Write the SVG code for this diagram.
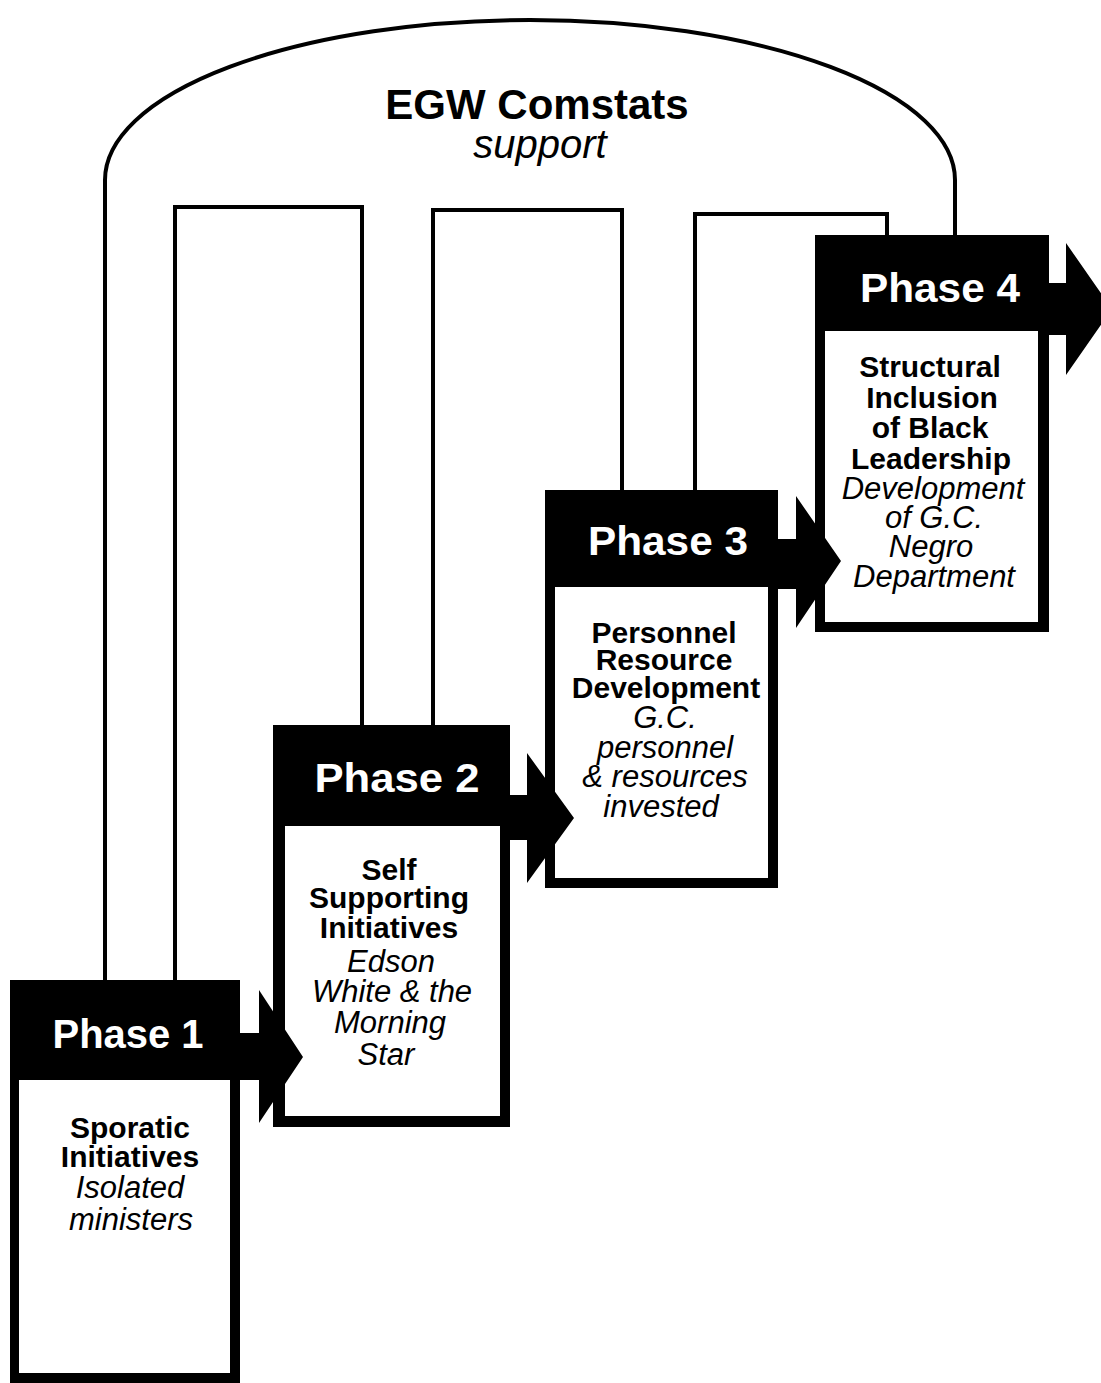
<svg xmlns="http://www.w3.org/2000/svg" width="1101" height="1383" viewBox="0 0 1101 1383">
  <style>
    .frame { fill: #000; }
    .panel { fill: #fff; }
    .line { fill: none; stroke: #000; stroke-width: 4; }
    .arrow { fill: #000; }
    text { font-family: "Liberation Sans", Arial, Helvetica, sans-serif; text-anchor: middle; }
    .title { font-size: 42px; font-weight: bold; fill: #000; }
    .subtitle { font-size: 40px; font-style: italic; fill: #000; }
    .phase { font-size: 41px; font-weight: bold; fill: #fff; }
    .head { font-size: 30px; font-weight: bold; fill: #000; }
    .note { font-size: 31px; font-style: italic; fill: #000; }
  </style>

  <rect width="1101" height="1383" fill="#fff"/>

  <!-- support connectors: outer arch and the three bracket links -->
  <g id="support-lines">
    <path class="line" d="M105,980 V180 A425,160 0 0 1 955,180 V236"/>
    <path class="line" d="M175,980 V207 H362 V726"/>
    <path class="line" d="M433,726 V210 H622 V491"/>
    <path class="line" d="M695,491 V214 H887 V236"/>
  </g>

  <!-- heading inside the arch -->
  <g id="egw-comstats">
    <text class="title" x="537" y="119">EGW Comstats</text>
    <text class="subtitle" x="540" y="158">support</text>
  </g>

  <!-- phase 1 -->
  <g id="phase-1">
    <rect class="frame" x="10" y="980" width="230" height="403"/>
    <rect class="panel" x="19" y="1080" width="211" height="293"/>
    <text class="phase" x="128" y="1048" textLength="151" lengthAdjust="spacingAndGlyphs">Phase 1</text>
    <text class="head" x="130" y="1138">Sporatic</text>
    <text class="head" x="130" y="1167">Initiatives</text>
    <text class="note" x="130" y="1198">Isolated</text>
    <text class="note" x="131" y="1230">ministers</text>
  </g>

  <!-- phase 2 -->
  <g id="phase-2">
    <rect class="frame" x="273" y="725" width="237" height="402"/>
    <rect class="panel" x="285" y="826" width="215" height="290"/>
    <text class="phase" x="397" y="792" textLength="165" lengthAdjust="spacingAndGlyphs">Phase 2</text>
    <text class="head" x="389" y="880">Self</text>
    <text class="head" x="389" y="908">Supporting</text>
    <text class="head" x="389" y="938">Initiatives</text>
    <text class="note" x="391" y="972">Edson</text>
    <text class="note" x="392" y="1002">White &amp; the</text>
    <text class="note" x="390" y="1033">Morning</text>
    <text class="note" x="386" y="1065">Star</text>
  </g>

  <!-- phase 3 -->
  <g id="phase-3">
    <rect class="frame" x="545" y="490" width="233" height="398"/>
    <rect class="panel" x="555" y="587" width="213" height="291"/>
    <text class="phase" x="668" y="555" textLength="160" lengthAdjust="spacingAndGlyphs">Phase 3</text>
    <text class="head" x="664" y="643">Personnel</text>
    <text class="head" x="664" y="670">Resource</text>
    <text class="head" x="666" y="698">Development</text>
    <text class="note" x="665" y="728">G.C.</text>
    <text class="note" x="665" y="758">personnel</text>
    <text class="note" x="665" y="787">&amp; resources</text>
    <text class="note" x="661" y="817">invested</text>
  </g>

  <!-- phase 4 -->
  <g id="phase-4">
    <rect class="frame" x="815" y="235" width="234" height="397"/>
    <rect class="panel" x="825" y="331" width="213" height="291"/>
    <text class="phase" x="940" y="302" textLength="160" lengthAdjust="spacingAndGlyphs">Phase 4</text>
    <text class="head" x="930" y="377">Structural</text>
    <text class="head" x="932" y="408">Inclusion</text>
    <text class="head" x="930" y="438">of Black</text>
    <text class="head" x="931" y="469">Leadership</text>
    <text class="note" x="933" y="499">Development</text>
    <text class="note" x="934" y="528">of G.C.</text>
    <text class="note" x="931" y="557">Negro</text>
    <text class="note" x="934" y="587">Department</text>
  </g>

  <!-- block arrows leading from each phase header into the next phase -->
  <g id="phase-arrows">
    <polygon class="arrow" points="238,1033 259,1033 259,990 303,1057 259,1123 259,1080 238,1080"/>
    <polygon class="arrow" points="508,795 527,795 527,753 574,818 527,883 527,840 508,840"/>
    <polygon class="arrow" points="776,539 796,539 796,496 841,561 796,628 796,589 776,589"/>
    <polygon class="arrow" points="1047,283 1066,283 1066,243 1112,309 1066,375 1066,335 1047,335"/>
  </g>
</svg>
